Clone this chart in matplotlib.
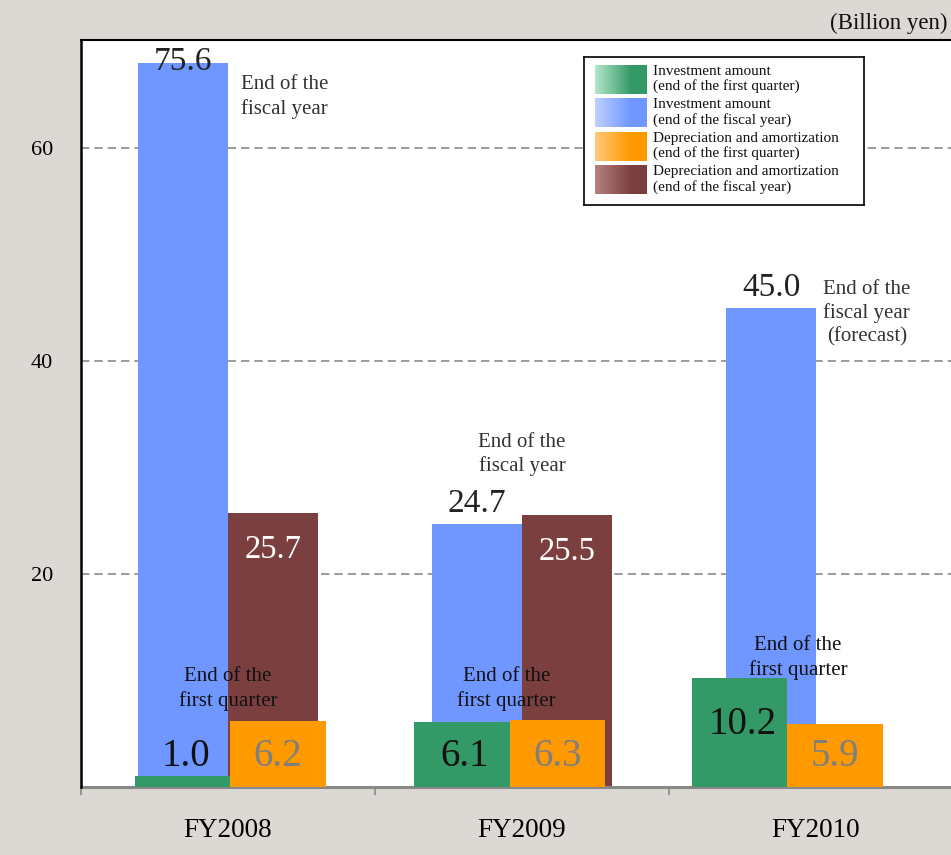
import numpy as np
import matplotlib
matplotlib.use("Agg")
import matplotlib.pyplot as plt
from matplotlib.colors import to_rgb

plt.rcParams['font.family'] = ['Liberation Serif', 'DejaVu Serif']

# ---------------- data ----------------
years = ['FY2008', 'FY2009', 'FY2010']
inv_q1 = [1.0, 6.1, 10.2]          # Investment amount (end of the first quarter)
inv_fy = [75.6, 24.7, 45.0]        # Investment amount (end of the fiscal year)
dep_q1 = [6.2, 6.3, 5.9]           # Depreciation and amortization (end of the first quarter)
dep_fy = [25.7, 25.5, np.nan]      # Depreciation and amortization (end of the fiscal year)
series_names = ['Investment amount\n(end of the first quarter)',
                'Investment amount\n(end of the fiscal year)',
                'Depreciation and amortization\n(end of the first quarter)',
                'Depreciation and amortization\n(end of the fiscal year)']
yticks = [20, 40, 60]
unit_label = '(Billion yen)'
fy_notes = ['End of the\nfiscal year', 'End of the\nfiscal year', 'End of the\nfiscal year\n(forecast)']
q1_note = 'End of the\nfirst quarter'

# ---------------- layout / style ----------------
C_GREEN = '#339966'
C_BLUE = '#6f97ff'
C_ORANGE = '#ff9900'
C_BROWN = '#7b3f3f'
BG = '#dcd9d5'
YMAX = 70.14
DISPLAY_CAP = 68.0
W_FY = 0.305
W_Q = 0.325
q_shift = [0.008, -0.042, -0.097]   # left edge of orange bar relative to group center
fy_note_pos = [(0.044, 64.8, 'left'), (1.0, 31.2, 'center'), (2.024, 44.5, 'left')]
q_note_pos = [(0.0, 9.2), (0.947, 9.2), (1.939, 12.1)]

fig = plt.figure(figsize=(9.51, 8.55), dpi=100, facecolor=BG)
ax = fig.add_axes([81 / 951, 68 / 855, 882 / 951, 747 / 855])
ax.set_facecolor('white')
ax.set_xlim(-0.5, 2.5)
ax.set_ylim(0, YMAX)

x = np.arange(len(years))
px_per_unit = 747 / YMAX

def px(v):
    return v / px_per_unit

for g in yticks:
    ax.axhline(g, color='#8a8a8a', lw=1.2, ls=(0, (5, 3)), zorder=1)

# fiscal-year bars
inv_fy_draw = [min(v, DISPLAY_CAP) for v in inv_fy]
ax.bar(x - W_FY, inv_fy_draw, width=W_FY, align='edge', color=C_BLUE, zorder=2)
ax.bar(x, dep_fy, width=W_FY, align='edge', color=C_BROWN, zorder=2)

# first-quarter bars
qs = np.array(q_shift)
ax.bar(x + qs - W_Q, inv_q1, width=W_Q, align='edge', color=C_GREEN, zorder=3)
ax.bar(x + qs, dep_q1, width=W_Q, align='edge', color=C_ORANGE, zorder=3)

# value labels
for i in range(len(years)):
    v = inv_fy[i]
    top = inv_fy_draw[i]
    dy = 1.0 if v > DISPLAY_CAP else 20
    ax.text(x[i] - W_FY / 2, top + px(dy), f'{v:.1f}', ha='center', va='center',
            fontsize=24, color='#222222', zorder=5)
    if not np.isnan(dep_fy[i]):
        ax.text(x[i] + W_FY / 2, dep_fy[i] - px(36), f'{dep_fy[i]:.1f}', ha='center',
                va='center', fontsize=23.5, color='white', zorder=5)
    yq = max(px(31), inv_q1[i] - px(46))
    ax.text(x[i] + qs[i] - W_Q / 2 + 0.01, yq, f'{inv_q1[i]:.1f}', ha='center', va='center',
            fontsize=28, color='#111111', zorder=5)
    ax.text(x[i] + qs[i] + W_Q / 2, px(31), f'{dep_q1[i]:.1f}', ha='center', va='center',
            fontsize=28, color='#7f7f7f', zorder=5)

# notes
for (nx, ny, ha), t in zip(fy_note_pos, fy_notes):
    ax.text(nx, ny, t, ha=ha, va='center', multialignment='center', fontsize=15,
            color='#333333', linespacing=1.3, zorder=5)
for (nx, ny) in q_note_pos:
    ax.text(nx, ny, q1_note, ha='center', va='center', multialignment='center', fontsize=15,
            color='#111111', linespacing=1.3, zorder=5)

# axes styling
ax.set_yticks(yticks)
ax.set_yticklabels([str(t) for t in yticks], fontsize=16)
ax.tick_params(axis='y', length=0, pad=20)
ax.set_xticks(x)
ax.set_xticklabels(years, fontsize=19.5)
ax.tick_params(axis='x', which='major', length=0, pad=22)
ax.set_xticks([-0.5, 0.5, 1.5], minor=True)
ax.tick_params(axis='x', which='minor', length=6, width=1.2, color='#888888', direction='out')
ax.spines['right'].set_visible(False)
ax.spines['left'].set_color('black')
ax.spines['left'].set_linewidth(1.8)
ax.spines['top'].set_color('black')
ax.spines['top'].set_linewidth(1.5)
ax.spines['bottom'].set_color('#888888')
ax.spines['bottom'].set_linewidth(2.2)
ax.spines['left'].set_zorder(6)

fig.text(947 / 951, 1 - 23 / 855, unit_label, ha='right', va='center', fontsize=16.5, color='#111111')

# ---------------- legend (manual, gradient swatches) ----------------
lg = fig.add_axes([584 / 951, 1 - 205 / 855, 280 / 951, 148 / 855])
lg.set_xticks([])
lg.set_yticks([])
lg.set_facecolor('white')
for s in lg.spines.values():
    s.set_color('black')
    s.set_linewidth(1.2)
lg.set_zorder(10)

swatches = [(C_GREEN, '#b4e6cc'), (C_BLUE, '#bfd0ff'), (C_ORANGE, '#ffc878'), (C_BROWN, '#b88080')]
tops = [8, 41.5, 75, 108.5]
for (dark, light), top, name in zip(swatches, tops, series_names):
    n = 100
    t = np.clip(np.linspace(0, 1, n) / 0.7, 0, 1)[None, :, None]
    grad = np.array(to_rgb(light))[None, None, :] * (1 - t) + np.array(to_rgb(dark))[None, None, :] * t
    lg.imshow(grad, extent=[11, 63, top + 29, top], aspect='auto', interpolation='bilinear')
    lg.text(69, top + 14, name, ha='left', va='center', fontsize=11, color='#111111',
            linespacing=1.15)
lg.set_xlim(0, 280)
lg.set_ylim(148, 0)

fig.savefig('out.png', dpi=100, facecolor=BG)
